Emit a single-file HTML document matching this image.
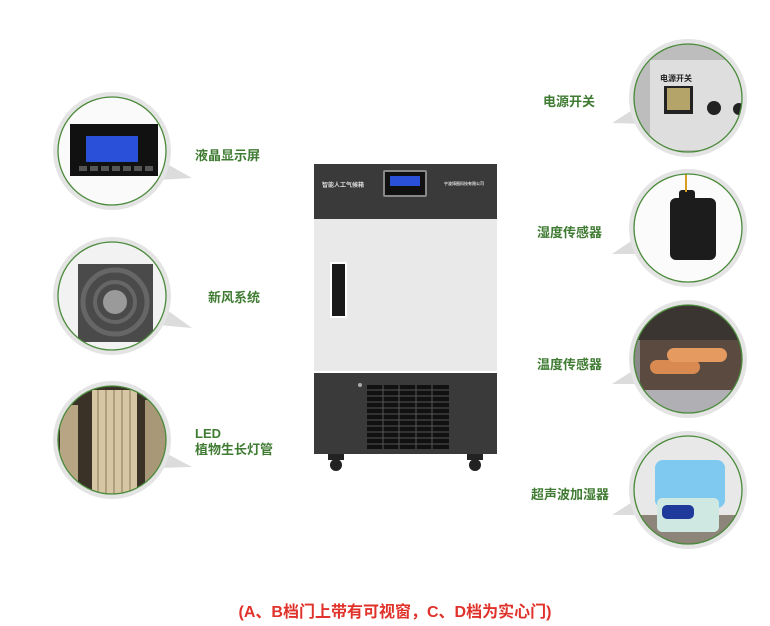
<!DOCTYPE html>
<html><head><meta charset="utf-8"><style>
html,body{margin:0;padding:0;background:#fff;}
svg{display:block}
text{font-family:"Liberation Sans","Noto Sans CJK SC",sans-serif;font-weight:bold;}
</style></head><body>
<svg width="770" height="626" viewBox="0 0 770 626" xmlns="http://www.w3.org/2000/svg">
<defs>
<clipPath id="c1"><circle cx="112" cy="151" r="54"/></clipPath>
<clipPath id="c2"><circle cx="112" cy="296" r="54"/></clipPath>
<clipPath id="c3"><circle cx="112" cy="440" r="54"/></clipPath>
<clipPath id="c4"><circle cx="688" cy="98" r="54"/></clipPath>
<clipPath id="c5"><circle cx="688" cy="228" r="54"/></clipPath>
<clipPath id="c6"><circle cx="688" cy="359" r="54"/></clipPath>
<clipPath id="c7"><circle cx="688" cy="490" r="54"/></clipPath>
</defs>
<rect width="770" height="626" fill="#fff"/>

<!-- tails -->
<g fill="#dcdcdc">
<polygon points="160,160 192,178 158,180"/>
<polygon points="160,305 192,328 158,325"/>
<polygon points="160,450 192,467 158,468"/>
<polygon points="640,105 612,123 642,124"/>
<polygon points="640,235 612,254 642,254"/>
<polygon points="640,366 612,384 642,384"/>
<polygon points="640,497 612,515 642,515"/>
</g>
<!-- outer discs -->
<g fill="#e4e4e4">
<circle cx="112" cy="151" r="59"/><circle cx="112" cy="296" r="59"/><circle cx="112" cy="440" r="59"/>
<circle cx="688" cy="98" r="59"/><circle cx="688" cy="228" r="59"/><circle cx="688" cy="359" r="59"/><circle cx="688" cy="490" r="59"/>
</g>

<!-- 1 LCD -->
<g clip-path="url(#c1)"><rect x="50" y="90" width="130" height="130" fill="#fafafa"/>
<rect x="70" y="124" width="88" height="52" fill="#111"/>
<rect x="86" y="136" width="52" height="26" fill="#2a4fd8"/>
<g fill="#555"><rect x="79" y="166" width="8" height="5"/><rect x="90" y="166" width="8" height="5"/><rect x="101" y="166" width="8" height="5"/><rect x="112" y="166" width="8" height="5"/><rect x="123" y="166" width="8" height="5"/><rect x="134" y="166" width="8" height="5"/><rect x="145" y="166" width="8" height="5"/></g></g>
<!-- 2 fan -->
<g clip-path="url(#c2)"><rect x="50" y="235" width="130" height="130" fill="#f2f2f2"/>
<rect x="78" y="264" width="75" height="78" fill="#4a4a4a"/>
<circle cx="115" cy="302" r="32" fill="none" stroke="#666" stroke-width="5"/>
<circle cx="115" cy="302" r="20" fill="none" stroke="#666" stroke-width="4"/>
<circle cx="115" cy="302" r="12" fill="#9a9a9a"/></g>
<!-- 3 LED -->
<g clip-path="url(#c3)"><rect x="50" y="380" width="130" height="130" fill="#3a3226"/>
<rect x="60" y="405" width="18" height="90" fill="#b7a584"/>
<rect x="92" y="390" width="45" height="110" fill="#d6c6a4"/>
<rect x="145" y="400" width="22" height="100" fill="#a89878"/>
<g stroke="#8a7a5a" stroke-width="1"><line x1="98" y1="390" x2="98" y2="500"/><line x1="106" y1="390" x2="106" y2="500"/><line x1="114" y1="390" x2="114" y2="500"/><line x1="122" y1="390" x2="122" y2="500"/><line x1="130" y1="390" x2="130" y2="500"/></g></g>
<!-- 4 switch -->
<g clip-path="url(#c4)"><rect x="620" y="35" width="130" height="130" fill="#bdbdbd"/>
<polygon points="650,60 750,60 750,150 650,150" fill="#dedede"/>
<rect x="664" y="86" width="29" height="28" fill="#222"/>
<rect x="667" y="88" width="23" height="22" fill="#b5a46a"/>
<circle cx="714" cy="108" r="7" fill="#222"/><circle cx="739" cy="109" r="6" fill="#222"/>
<text x="660" y="81" font-size="8" fill="#222">电源开关</text></g>
<!-- 5 humidity sensor -->
<g clip-path="url(#c5)"><rect x="620" y="165" width="130" height="130" fill="#fbfbfb"/>
<rect x="670" y="198" width="46" height="62" rx="6" fill="#1c1c1c"/>
<rect x="679" y="190" width="16" height="12" rx="3" fill="#1c1c1c"/>
<line x1="686" y1="170" x2="686" y2="192" stroke="#d8a020" stroke-width="2"/></g>
<!-- 6 temp sensor -->
<g clip-path="url(#c6)"><rect x="620" y="300" width="130" height="130" fill="#8a8a8a"/>
<rect x="620" y="300" width="130" height="40" fill="#3a3530"/>
<rect x="640" y="340" width="110" height="50" fill="#5a4a40"/>
<rect x="650" y="360" width="50" height="14" rx="7" fill="#d88a50"/>
<rect x="667" y="348" width="60" height="14" rx="7" fill="#e59a60"/>
<rect x="620" y="390" width="130" height="40" fill="#b0b0b4"/></g>
<!-- 7 humidifier -->
<g clip-path="url(#c7)"><rect x="620" y="430" width="130" height="130" fill="#e8e8e8"/>
<rect x="620" y="515" width="130" height="45" fill="#8d847a"/>
<rect x="655" y="460" width="70" height="48" rx="8" fill="#7fc8f0"/>
<rect x="657" y="498" width="62" height="34" rx="5" fill="#cfe8e2"/>
<rect x="662" y="505" width="32" height="14" rx="5" fill="#1f3a9a"/></g>

<!-- green rings -->
<g fill="none" stroke="#4a8a3a" stroke-width="1.3">
<circle cx="112" cy="151" r="54"/><circle cx="112" cy="296" r="54"/><circle cx="112" cy="440" r="54"/>
<circle cx="688" cy="98" r="54"/><circle cx="688" cy="228" r="54"/><circle cx="688" cy="359" r="54"/><circle cx="688" cy="490" r="54"/>
</g>

<!-- labels -->
<g fill="#3f7b32" font-size="13">
<text x="195" y="160">液晶显示屏</text>
<text x="208" y="302">新风系统</text>
<text x="195" y="438">LED</text>
<text x="195" y="454">植物生长灯管</text>
<text x="543" y="106">电源开关</text>
<text x="537" y="237">湿度传感器</text>
<text x="537" y="369">温度传感器</text>
<text x="531" y="499">超声波加湿器</text>
</g>

<!-- cabinet -->
<rect x="314" y="164" width="183" height="290" fill="#3a3a3a"/>
<rect x="314" y="219" width="183" height="152" fill="#e9e9e9"/>
<rect x="314" y="371" width="183" height="2" fill="#fff"/>
<rect x="383" y="170" width="44" height="27" rx="2" fill="#888"/>
<rect x="385" y="172" width="40" height="23" fill="#111"/>
<rect x="390" y="176" width="30" height="10" fill="#2a4fd8"/>
<text x="322" y="187" font-size="6" fill="#ddd">智能人工气候箱</text>
<text x="444" y="185" font-size="4" fill="#ddd" font-weight="normal">宁波博图科技有限公司</text>
<rect x="330" y="262" width="17" height="56" rx="1" fill="#fff"/>
<rect x="332" y="264" width="13" height="52" fill="#1a1a1a"/>
<g fill="#111">
<rect x="367" y="385" width="82" height="64"/>
</g>
<g stroke="#555" stroke-width="1">
<line x1="367" y1="390" x2="449" y2="390"/><line x1="367" y1="396" x2="449" y2="396"/><line x1="367" y1="402" x2="449" y2="402"/><line x1="367" y1="408" x2="449" y2="408"/><line x1="367" y1="414" x2="449" y2="414"/><line x1="367" y1="420" x2="449" y2="420"/><line x1="367" y1="426" x2="449" y2="426"/><line x1="367" y1="432" x2="449" y2="432"/><line x1="367" y1="438" x2="449" y2="438"/><line x1="367" y1="444" x2="449" y2="444"/>
<line x1="383" y1="385" x2="383" y2="449"/><line x1="399" y1="385" x2="399" y2="449"/><line x1="416" y1="385" x2="416" y2="449"/><line x1="432" y1="385" x2="432" y2="449"/>
</g>
<circle cx="360" cy="385" r="2" fill="#aaa"/>
<rect x="328" y="454" width="16" height="6" fill="#222"/><circle cx="336" cy="465" r="6" fill="#222"/>
<rect x="467" y="454" width="16" height="6" fill="#222"/><circle cx="475" cy="465" r="6" fill="#222"/>

<text x="395" y="617" font-size="16" fill="#e0322a" text-anchor="middle">(A、B档门上带有可视窗，C、D档为实心门)</text>
</svg>
</body></html>
